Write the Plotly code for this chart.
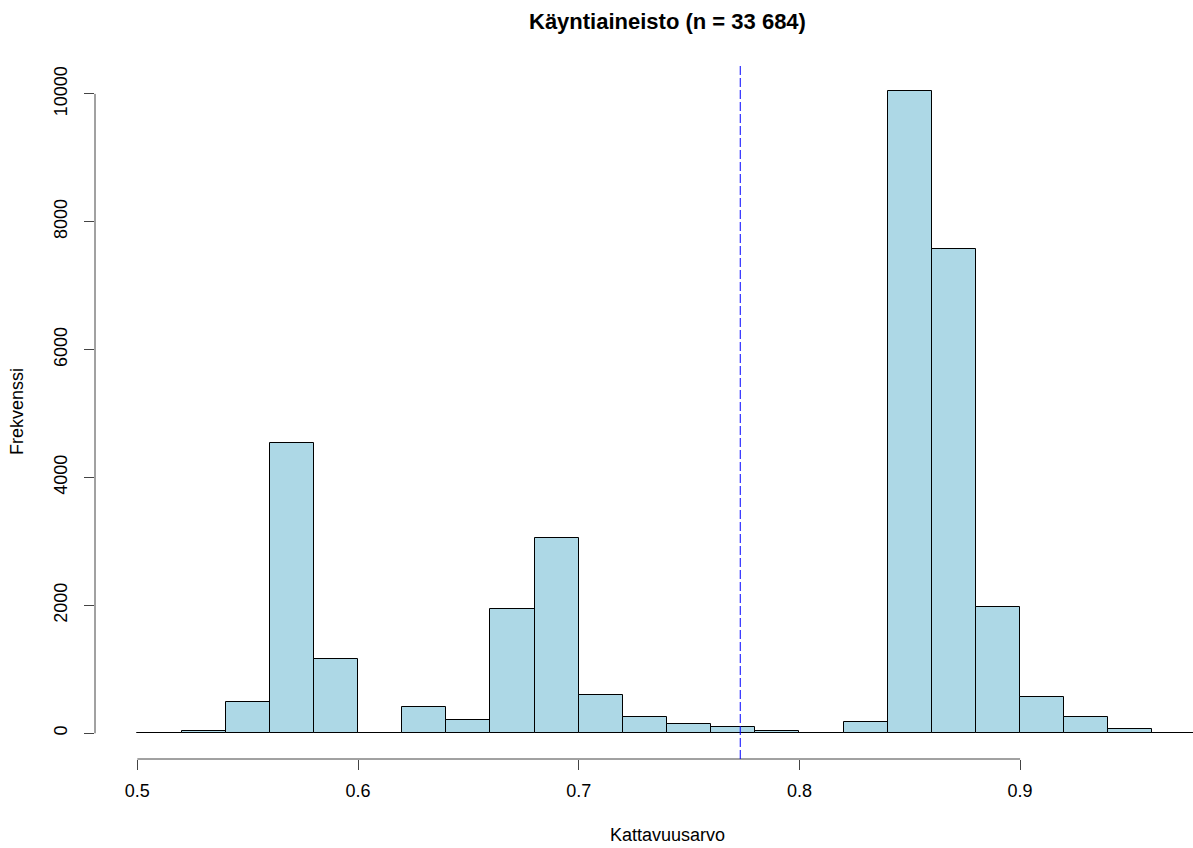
import plotly.graph_objects as go

# Histogram data (bin edges width 0.02, from 0.50 to 0.98)
bin_starts = [0.50, 0.52, 0.54, 0.56, 0.58, 0.60, 0.62, 0.64, 0.66, 0.68, 0.70, 0.72,
              0.74, 0.76, 0.78, 0.80, 0.82, 0.84, 0.86, 0.88, 0.90, 0.92, 0.94, 0.96]
counts = [5, 30, 485, 4540, 1160, 0, 417, 214, 1940, 3060, 605, 260,
          150, 94, 40, 0, 183, 10050, 7580, 1980, 568, 255, 68, 5]
bin_width = 0.02
mean_value = 0.7732

x_ticks = [0.5, 0.6, 0.7, 0.8, 0.9]
x_ticktext = ["0.5", "0.6", "0.7", "0.8", "0.9"]
y_ticks = [0, 2000, 4000, 6000, 8000, 10000]
y_ticktext = ["0", "2000", "4000", "6000", "8000", "10000"]

title_text = "Käyntiaineisto (n = 33 684)"
x_title = "Kattavuusarvo"
y_title = "Frekvenssi"

centers = [s + bin_width / 2 for s in bin_starts]

FONT = "Liberation Sans, Arial, sans-serif"

fig = go.Figure()
fig.add_trace(go.Bar(
    x=centers, y=counts, width=bin_width,
    marker=dict(color="#ADD8E6", line=dict(color="black", width=1)),
    hoverinfo="x+y", showlegend=False,
))

fig.update_layout(
    width=1193, height=848,
    margin=dict(l=95, r=0, t=65, b=89),
    plot_bgcolor="white", paper_bgcolor="white",
    font=dict(family=FONT, size=18, color="black"),
    bargap=0,
    xaxis=dict(
        range=[0.4808, 0.97836],
        tickvals=x_ticks, ticktext=x_ticktext,
        ticks="outside", ticklen=10, tickcolor="#444", tickwidth=1,
        showgrid=False, zeroline=False, showline=False,
        tickfont=dict(family=FONT, size=18, color="black"),
        ticklabelstandoff=5,
    ),
    yaxis=dict(
        range=[-402, 10452],
        tickvals=y_ticks, ticktext=y_ticktext,
        ticks="outside", ticklen=10, tickcolor="#444", tickwidth=1,
        tickangle=-90,
        showgrid=False, zeroline=False, showline=False,
        tickfont=dict(family=FONT, size=18, color="black"),
        ticklabelstandoff=10,
    ),
    shapes=[
        dict(type="line", xref="x", yref="paper", x0=x_ticks[0], x1=x_ticks[-1], y0=0, y1=0,
             line=dict(color="#444", width=1)),
        dict(type="line", xref="paper", yref="y", x0=0, x1=0, y0=y_ticks[0], y1=y_ticks[-1],
             line=dict(color="#444", width=1)),
        dict(type="line", xref="x", yref="paper", x0=mean_value, x1=mean_value, y0=0, y1=1,
             line=dict(color="blue", width=1, dash="9px,3px")),
    ],
    annotations=[
        dict(text="<b>" + title_text + "</b>", xref="paper", yref="paper", x=0.521, y=1.062,
             xanchor="center", yanchor="middle", showarrow=False,
             font=dict(family=FONT, size=22, color="black")),
        dict(text=x_title, xref="paper", yref="paper", x=0.521, y=-0.1095,
             xanchor="center", yanchor="middle", showarrow=False,
             font=dict(family=FONT, size=18, color="black")),
        dict(text=y_title, xref="paper", yref="paper", x=-0.071, y=0.5,
             xanchor="center", yanchor="middle", showarrow=False, textangle=-90,
             font=dict(family=FONT, size=18, color="black")),
    ],
)

fig.write_html("out.html")
